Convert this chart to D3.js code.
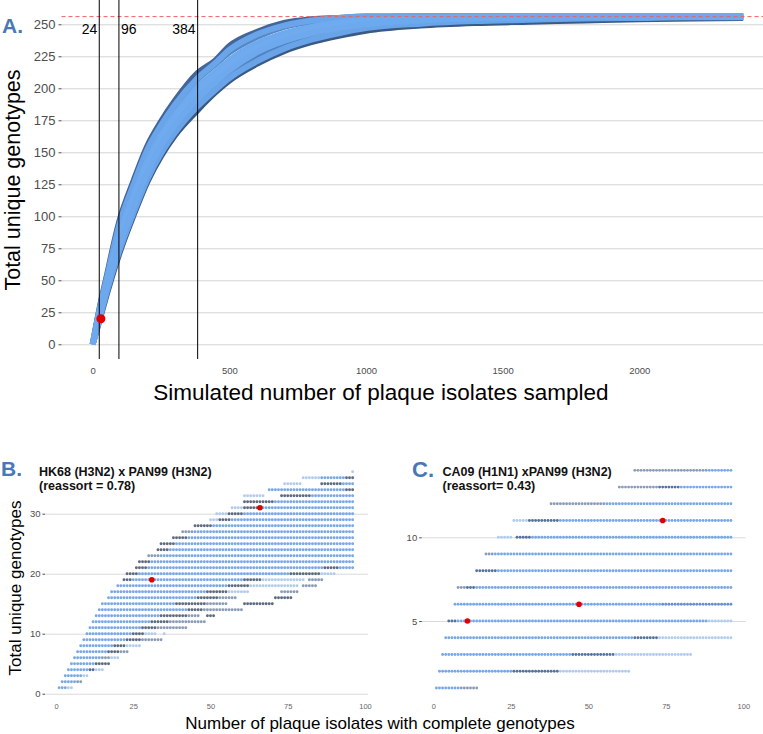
<html>
<head>
<script src="https://d3js.org/d3.v7.min.js"></script>
<style>
body { margin: 0; background: white; }
text { font-family: "Liberation Sans", Arial, Helvetica, sans-serif; }
.axis path.domain { display: none; }
</style>
</head>
<body>
<svg id="chart" width="763" height="734"></svg>
<script>
// ---------- panel A data: simulated accumulation curves ----------
var xsA = [0, 24, 50, 96, 150, 200, 250, 300, 384, 450, 500, 600, 700, 800, 900, 1000, 1200, 1400, 1600, 1800, 2000, 2200, 2380];
var curveLow   = [0, 18, 38, 70, 101, 127, 147, 163, 183, 197, 206, 219, 229, 236, 241, 245, 249, 251, 252, 253, 254, 254.5, 255];
var curveHigh  = [0, 27, 52, 95, 128, 155, 174, 190, 212, 222, 233, 244, 251, 254, 255, 256, 256, 256, 256, 256, 256, 256, 256];
var curveMidLo = [0, 20, 41, 74, 106, 132, 152, 168, 189, 202, 211, 225, 235, 241, 245, 248.5, 251.5, 253.5, 254.5, 255, 255.5, 256, 256];
var curveMidHi = [0, 26, 49, 89, 122, 149, 168, 185, 207, 219, 228, 240, 248, 252, 254, 255, 256, 256, 256, 256, 256, 256, 256];
var curveLightLo = [0, 19, 40, 72, 103, 129, 149, 165, 186, 199, 208, 221, 231, 238, 243, 247, 250.5, 252.5, 253.5, 254.5, 255, 255.5, 255.5];
var curveLightHi = [0, 26, 50, 92, 125, 152, 171, 187, 208, 220, 230, 242, 249, 253, 255, 256, 256, 256, 256, 256, 256, 256, 256];
var curveA1    = [0, 22, 44, 78, 111, 137, 157, 173, 195, 208, 217, 230, 239, 245, 249, 251.5, 254, 255, 255.5, 256, 256, 256, 256];
var curveA2    = [0, 24, 47, 84, 117, 143, 163, 179, 201, 213, 222, 235, 243, 248, 251.5, 253.5, 255, 255.5, 256, 256, 256, 256, 256];
var curveA3    = [0, 23, 45, 80, 113, 139, 160, 176, 198, 210, 219, 232, 240, 246, 250, 252, 254.5, 255.5, 256, 256, 256, 256, 256];
var curveA4    = [0, 21, 43, 76, 108, 134, 155, 171, 192, 205, 214, 228, 237, 243, 247, 250, 253, 254.5, 255, 255.5, 256, 256, 256];
var curvesA = [curveLow, curveHigh, curveMidLo, curveMidHi, curveLightLo, curveLightHi, curveA1, curveA2, curveA3, curveA4];
var curveColors = ["#3a5a83", "#43659a", "#5283c0", "#5587c4", "#69a3e8", "#6aa5ea", "#6ca7ec", "#6fa9ee", "#71abef", "#6ea8ed"];

var sampleMarks = [24, 96, 384];
var maxGenotypes = 256;
var pointA = [30, 20];
var ticksAy = [0, 25, 50, 75, 100, 125, 150, 175, 200, 225, 250];
var ticksAx = [0, 500, 1000, 1500, 2000];

// ---------- panels B and C: [genotypes, [[fromIsolate, toIsolate, shade], ...]] ----------
// shade: 1 pale, 2 blue, 3 grey-blue, 4 dark grey, 5 navy, 6 mid blue
var rowsB = [
  [1, [[1, 3, 2], [4, 5, 1]]],
  [2, [[2, 6, 2], [7, 8, 3]]],
  [3, [[3, 8, 2], [9, 10, 1]]],
  [4, [[4, 10, 2], [11, 12, 4], [13, 15, 1]]],
  [5, [[5, 12, 2], [13, 17, 4]]],
  [6, [[6, 14, 2], [15, 17, 3], [18, 20, 1]]],
  [7, [[7, 16, 2], [17, 20, 4], [21, 23, 3]]],
  [8, [[8, 18, 2], [19, 22, 4], [23, 27, 1]]],
  [9, [[9, 22, 2], [23, 27, 4], [28, 34, 3]]],
  [10, [[10, 24, 2], [25, 28, 4], [29, 32, 1], [35, 35, 1]]],
  [11, [[11, 27, 2], [28, 32, 4], [33, 42, 3]]],
  [12, [[12, 30, 2], [31, 36, 4], [37, 48, 3]]],
  [13, [[13, 33, 2], [34, 42, 4], [43, 46, 3], [49, 51, 4]]],
  [14, [[14, 42, 2], [43, 47, 4], [48, 60, 3]]],
  [15, [[15, 38, 2], [39, 48, 4], [49, 55, 3], [61, 70, 4]]],
  [16, [[17, 45, 2], [46, 52, 4], [53, 58, 3], [71, 76, 4]]],
  [17, [[18, 48, 2], [49, 55, 4], [56, 62, 1], [73, 78, 3]]],
  [18, [[20, 55, 2], [56, 62, 4], [63, 78, 1], [80, 84, 3]]],
  [19, [[22, 24, 4], [25, 60, 2], [61, 66, 4], [67, 80, 1], [82, 86, 3]]],
  [20, [[23, 26, 4], [27, 75, 2], [76, 85, 4], [86, 90, 1]]],
  [21, [[26, 29, 4], [30, 86, 2], [87, 91, 4], [92, 96, 2]]],
  [22, [[27, 30, 4], [31, 96, 2]]],
  [23, [[30, 33, 3], [34, 96, 2]]],
  [24, [[33, 36, 4], [37, 96, 2]]],
  [25, [[34, 38, 4], [39, 96, 2]]],
  [26, [[38, 42, 4], [43, 96, 2]]],
  [27, [[41, 44, 3], [45, 96, 2]]],
  [28, [[45, 50, 4], [51, 96, 2]]],
  [29, [[50, 52, 1], [53, 56, 4], [57, 96, 2]]],
  [30, [[52, 55, 1], [56, 60, 4], [61, 96, 2]]],
  [31, [[57, 60, 1], [61, 65, 4], [66, 96, 2]]],
  [32, [[61, 70, 4], [71, 96, 2]]],
  [33, [[61, 67, 1], [73, 82, 4], [83, 96, 2]]],
  [34, [[69, 93, 2], [94, 96, 4]]],
  [35, [[74, 79, 1], [86, 92, 4], [93, 96, 2]]],
  [36, [[80, 85, 1], [86, 93, 2], [94, 96, 4]]],
  [37, [[96, 96, 1]]]
];
var rowsC = [
  [1, [[1, 8, 2], [9, 14, 3]]],
  [2, [[2, 25, 2], [26, 40, 5], [41, 63, 1]]],
  [3, [[3, 44, 2], [45, 58, 5], [59, 83, 1]]],
  [4, [[4, 64, 2], [65, 72, 5], [73, 96, 1]]],
  [5, [[5, 7, 5], [8, 88, 2], [89, 96, 1]]],
  [6, [[7, 73, 2], [74, 96, 6]]],
  [7, [[8, 10, 3], [11, 13, 5], [14, 96, 2]]],
  [8, [[14, 20, 5], [21, 96, 2]]],
  [9, [[17, 19, 3], [20, 96, 2]]],
  [10, [[21, 25, 1], [27, 31, 5], [32, 96, 2]]],
  [11, [[26, 30, 1], [31, 40, 5], [41, 96, 2]]],
  [12, [[38, 55, 3], [56, 96, 2]]],
  [13, [[60, 72, 3], [73, 79, 5], [80, 96, 2]]],
  [14, [[65, 88, 3], [89, 96, 2]]]
];
var pointsB = [[31, 19], [66, 31]];
var pointsC = [[11, 5], [47, 6], [74, 11]];
var ticksBy = [0, 10, 20, 30];
var ticksCy = [5, 10];
var ticksBx = [0, 25, 50, 75, 100];

var titleB = ["HK68 (H3N2) x PAN99 (H3N2)", "(reassort = 0.78)"];
var titleC = ["CA09 (H1N1) xPAN99 (H3N2)", "(reassort= 0.43)"];

var shade = d3.scaleOrdinal()
  .domain([1, 2, 3, 4, 5, 6])
  .range(["#b2ccee", "#77a9ea", "#8a9cb8", "#5e6a80", "#56739f", "#6791cc"]);

var fmt = d3.format("d");
var svg = d3.select("#chart");
svg.append("rect").attr("width", 763).attr("height", 734).attr("fill", "white");

// ================= panel A =================
var xA = d3.scaleLinear().domain([0, 2000]).range([92.7, 639.3]);
var yA = d3.scaleLinear().domain([0, 250]).range([344.3, 24.3]);
var leftA = 61.5, rightA = 763, bottomA = 360;

svg.append("g").attr("class", "axis").attr("transform", "translate(" + leftA + ",0)")
  .call(d3.axisRight(yA).tickValues(ticksAy).tickSize(rightA - leftA).tickFormat(""))
  .selectAll("line").attr("stroke", "#d3d3d3");

var axA = svg.append("g").attr("class", "axis").attr("transform", "translate(" + leftA + ",0)")
  .call(d3.axisLeft(yA).tickValues(ticksAy).tickFormat(fmt).tickSize(3).tickPadding(3));
axA.selectAll("line").attr("stroke", "#4d4d4d");
axA.selectAll("text").attr("font-size", 13).attr("fill", "#4d4d4d");

var axAx = svg.append("g").attr("class", "axis").attr("transform", "translate(0," + bottomA + ")")
  .call(d3.axisBottom(xA).tickValues(ticksAx).tickFormat(fmt).tickSize(0).tickPadding(7));
axAx.selectAll("text").attr("font-size", 9.5).attr("fill", "#4d4d4d");

var lineA = d3.line()
  .x(function(d, i) { return xA(xsA[i]); })
  .y(function(d) { return yA(d); })
  .curve(d3.curveMonotoneX);

svg.append("g").selectAll("path").data(curvesA).enter().append("path")
  .attr("d", lineA)
  .attr("fill", "none")
  .attr("stroke", function(d, i) { return curveColors[i]; })
  .attr("stroke-width", 6)
  .attr("stroke-linejoin", "round");

svg.append("line")
  .attr("x1", leftA).attr("x2", rightA)
  .attr("y1", yA(maxGenotypes)).attr("y2", yA(maxGenotypes))
  .attr("stroke", "#f06060").attr("stroke-width", 1).attr("stroke-dasharray", "4,3");

svg.append("g").selectAll("line").data(sampleMarks).enter().append("line")
  .attr("x1", function(d) { return xA(d); }).attr("x2", function(d) { return xA(d); })
  .attr("y1", 0).attr("y2", bottomA - 1)
  .attr("stroke", "black").attr("stroke-width", 1);

svg.append("g").selectAll("text").data(sampleMarks).enter().append("text")
  .attr("x", function(d) { return d === 96 ? xA(d) + 2 : xA(d) - 2; })
  .attr("y", 34)
  .attr("text-anchor", function(d) { return d === 96 ? "start" : "end"; })
  .attr("font-size", 14)
  .text(function(d) { return d; });

svg.append("circle").attr("cx", xA(pointA[0])).attr("cy", yA(pointA[1])).attr("r", 4.5).attr("fill", "#e00000");

svg.append("text").attr("transform", "translate(20,180) rotate(-90)")
  .attr("text-anchor", "middle").attr("font-size", 21.5).text("Total unique genotypes");
svg.append("text").attr("x", 381).attr("y", 400)
  .attr("text-anchor", "middle").attr("font-size", 22.5).text("Simulated number of plaque isolates sampled");

svg.append("text").attr("x", 2).attr("y", 33)
  .attr("font-family", "Liberation Serif, DejaVu Serif, serif").attr("font-weight", "bold")
  .attr("font-size", 21).attr("fill", "#4a78b6").text("A.");

// ================= panels B and C =================
function dotPanel(rows, points, xs, ys, left, right, bottom, yTicks) {
  svg.append("g").attr("class", "axis").attr("transform", "translate(" + left + ",0)")
    .call(d3.axisRight(ys).tickValues(yTicks).tickSize(right - left).tickFormat(""))
    .selectAll("line").attr("stroke", "#dadada");

  var ay = svg.append("g").attr("class", "axis").attr("transform", "translate(" + left + ",0)")
    .call(d3.axisLeft(ys).tickValues(yTicks).tickFormat(fmt).tickSize(2.5).tickPadding(2));
  ay.selectAll("line").attr("stroke", "#4d4d4d");
  ay.selectAll("text").attr("font-size", 9.5).attr("fill", "#4d4d4d");

  var ax = svg.append("g").attr("class", "axis").attr("transform", "translate(0," + bottom + ")")
    .call(d3.axisBottom(xs).tickValues(ticksBx).tickFormat(fmt).tickSize(0).tickPadding(5));
  ax.selectAll("text").attr("font-size", 7.5).attr("fill", "#666");

  var dots = [];
  rows.forEach(function(r) {
    r[1].forEach(function(s) {
      for (var x = s[0]; x <= s[1]; x++) dots.push({ x: x, y: r[0], s: s[2] });
    });
  });
  svg.append("g").selectAll("circle").data(dots).enter().append("circle")
    .attr("cx", function(d) { return xs(d.x); })
    .attr("cy", function(d) { return ys(d.y); })
    .attr("r", 1.45)
    .attr("fill", function(d) { return shade(d.s); });

  svg.append("g").selectAll("circle").data(points).enter().append("circle")
    .attr("cx", function(d) { return xs(d[0]); })
    .attr("cy", function(d) { return ys(d[1]); })
    .attr("r", 2.8).attr("fill", "#e00000");
}

var xB = d3.scaleLinear().domain([0, 100]).range([56, 365]);
var yB = d3.scaleLinear().domain([0, 30]).range([693.7, 513.7]);
dotPanel(rowsB, pointsB, xB, yB, 45, 368, 698.5, ticksBy);

var xC = d3.scaleLinear().domain([0, 100]).range([433.3, 743.3]);
var yC = d3.scaleLinear().domain([5, 10]).range([621, 537.3]);
dotPanel(rowsC, pointsC, xC, yC, 421.7, 745.6, 698.8, ticksCy);

// panel titles
function panelTitle(lines, x) {
  svg.append("g").selectAll("text").data(lines).enter().append("text")
    .attr("x", x).attr("y", function(d, i) { return 475.5 + i * 14.5; })
    .attr("font-size", 12.5).attr("font-weight", "bold").attr("fill", "#111")
    .text(function(d) { return d; });
}
panelTitle(titleB, 39);
panelTitle(titleC, 442.5);

svg.append("text").attr("x", 1).attr("y", 476)
  .attr("font-family", "Liberation Serif, DejaVu Serif, serif").attr("font-weight", "bold")
  .attr("font-size", 21).attr("fill", "#4a78b6").text("B.");
svg.append("text").attr("x", 412).attr("y", 477)
  .attr("font-family", "Liberation Serif, DejaVu Serif, serif").attr("font-weight", "bold")
  .attr("font-size", 22).attr("fill", "#4a78b6").text("C.");

svg.append("text").attr("transform", "translate(20.5,588) rotate(-90)")
  .attr("text-anchor", "middle").attr("font-size", 17).text("Total unique genotypes");
svg.append("text").attr("x", 380).attr("y", 729)
  .attr("text-anchor", "middle").attr("font-size", 17).text("Number of plaque isolates with complete genotypes");
</script>
</body>
</html>
